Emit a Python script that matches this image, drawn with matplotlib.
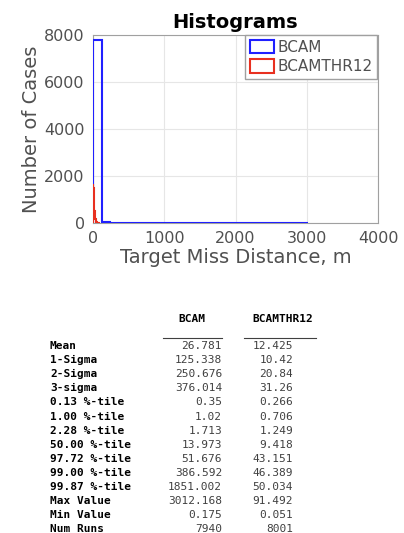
import numpy as np
import matplotlib.pyplot as plt
from matplotlib.patches import Patch

# histogram data (bin edges + counts)
bcam_edges = np.linspace(0, 3012.168, 26)
bcam_counts = [7800, 40, 20, 10, 8, 6, 5, 4, 4, 3, 3, 3, 3, 3, 3, 3, 3, 2, 2, 2, 2, 2, 2, 2, 1]
thr_edges = np.linspace(0, 91.492, 26)
thr_counts = [1650, 1500, 1200, 900, 700, 500, 400, 300, 200, 150, 120, 100, 80,
              60, 50, 40, 30, 20, 15, 10, 5, 3, 2, 1, 1]

# statistics table
col_names = ["BCAM", "BCAMTHR12"]
row_names = ["Mean", "1-Sigma", "2-Sigma", "3-sigma", "0.13 %-tile", "1.00 %-tile",
             "2.28 %-tile", "50.00 %-tile", "97.72 %-tile", "99.00 %-tile",
             "99.87 %-tile", "Max Value", "Min Value", "Num Runs"]
bcam_stats = ["26.781", "125.338", "250.676", "376.014", "0.35", "1.02", "1.713",
              "13.973", "51.676", "386.592", "1851.002", "3012.168", "0.175", "7940"]
thr_stats = ["12.425", "10.42", "20.84", "31.26", "0.266", "0.706", "1.249",
             "9.418", "43.151", "46.389", "50.034", "91.492", "0.051", "8001"]

W, H = 404, 533
fig = plt.figure(figsize=(W / 100, H / 100), dpi=100)
ax = fig.add_axes([93 / W, 1 - 223 / H, 285 / W, 188 / H])

blue = "#2020ff"
red = "#e83020"
ax.stairs(bcam_counts, bcam_edges, color=blue, lw=1.5, zorder=3)
ax.stairs(thr_counts, thr_edges, color=red, lw=1.5, zorder=3)

ax.set_xlim(0, 4000)
ax.set_ylim(0, 8000)
ax.set_xticks([0, 1000, 2000, 3000, 4000])
ax.set_yticks([0, 2000, 4000, 6000, 8000])
ax.grid(True, color="#e6e6e6", lw=0.8)
ax.set_axisbelow(True)
for s in ax.spines.values():
    s.set_color("#a0a0a0")
ax.tick_params(colors="#505050", labelsize=11.5, length=0, pad=6)
ax.set_title("Histograms", fontsize=14, fontweight="bold", pad=5)
ax.set_xlabel("Target Miss Distance, m", fontsize=14, color="#505050", labelpad=1)
ax.set_ylabel("Number of Cases", fontsize=14, color="#505050", labelpad=2)

handles = [Patch(facecolor="white", edgecolor=blue, lw=1.5, label="BCAM"),
           Patch(facecolor="white", edgecolor=red, lw=1.5, label="BCAMTHR12")]
leg = ax.legend(handles=handles, loc="upper right", fontsize=11, handlelength=1.6,
                handleheight=1.0, borderaxespad=0.0, borderpad=0.3, labelspacing=0.3,
                handletextpad=0.2, fancybox=False, framealpha=1,
                bbox_to_anchor=(377 / W, 1 - 35 / H), bbox_transform=fig.transFigure)
leg.get_frame().set_edgecolor("#a0a0a0")
for t in leg.get_texts():
    t.set_color("#505050")

# table
mono = "DejaVu Sans Mono"
fs = 8
y0 = 1 - 346 / H
dy = 14.1 / H
fig.text(192 / W, 1 - 319 / H, col_names[0], family=mono, fontsize=fs,
         fontweight="bold", ha="center", va="center")
fig.text(283 / W, 1 - 319 / H, col_names[1], family=mono, fontsize=fs,
         fontweight="bold", ha="center", va="center")
fig.add_artist(plt.Line2D([163 / W, 222 / W], [1 - 338 / H] * 2, color="#404040", lw=0.8))
fig.add_artist(plt.Line2D([244 / W, 316 / W], [1 - 338 / H] * 2, color="#404040", lw=0.8))
for i, name in enumerate(row_names):
    y = y0 - i * dy
    fig.text(50 / W, y, name, family=mono, fontsize=fs, fontweight="bold",
             ha="left", va="center")
    fig.text(222 / W, y, bcam_stats[i], family=mono, fontsize=fs, ha="right",
             va="center", color="#404040")
    fig.text(293 / W, y, thr_stats[i], family=mono, fontsize=fs, ha="right",
             va="center", color="#404040")

fig.savefig("out.png", dpi=100)
